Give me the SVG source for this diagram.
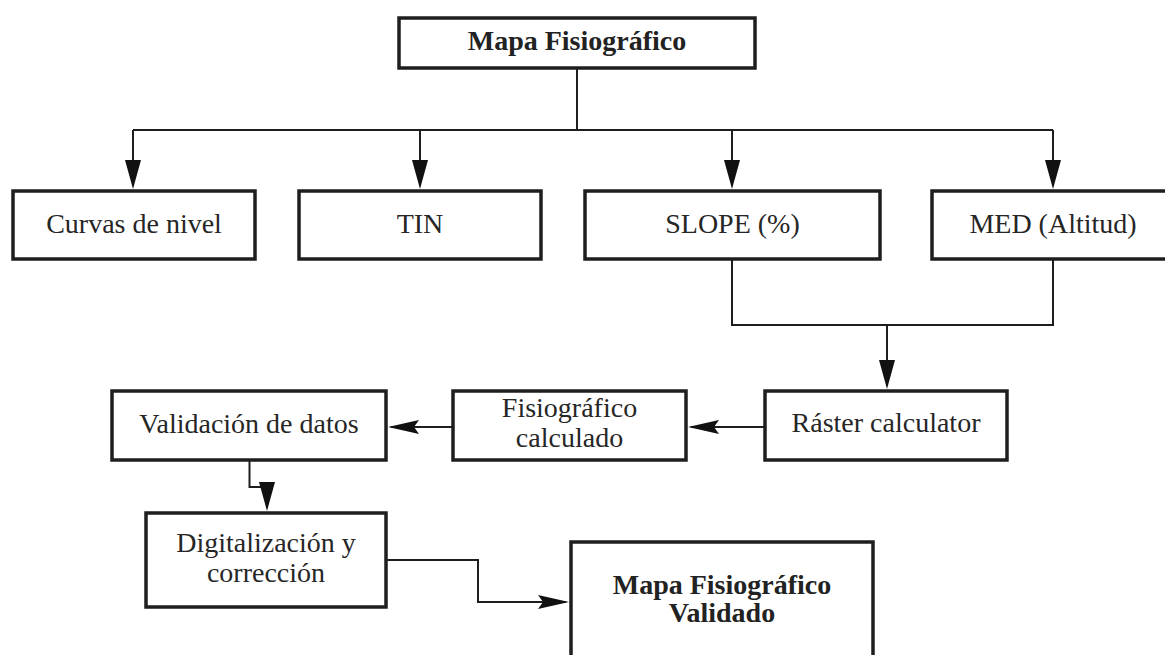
<svg xmlns="http://www.w3.org/2000/svg" width="1165" height="655" viewBox="0 0 1165 655">
  <style>
    .box { fill: #ffffff; stroke: #1e1e1e; stroke-width: 3.5; }
    .lbl { font-family: "Liberation Serif", "Times New Roman", serif; font-size: 28px; fill: #262626; text-anchor: middle; }
    .ttl { font-family: "Liberation Serif", "Times New Roman", serif; font-size: 28px; font-weight: bold; fill: #222222; text-anchor: middle; }
    .wire { fill: none; stroke: #1e1e1e; stroke-width: 2; }
  </style>
  <defs>
    <marker id="arrowV" markerUnits="userSpaceOnUse" orient="auto" markerWidth="40" markerHeight="20" refX="0" refY="0" viewBox="-30 -10 40 20" overflow="visible">
      <path d="M3,0 L-26,-8 L-26,8 Z" fill="#111111"/>
    </marker>
    <marker id="arrowH" markerUnits="userSpaceOnUse" orient="auto" markerWidth="40" markerHeight="20" refX="0" refY="0" viewBox="-30 -10 40 20" overflow="visible">
      <path d="M3,0 L-28,-7 L-23,0 L-28,7 Z" fill="#111111"/>
    </marker>
  </defs>

  <rect width="1165" height="655" fill="#ffffff"/>

  <!-- connectors -->
  <g id="connectors">
    <path class="wire" d="M577,68 V130"/>
    <path class="wire" d="M133,130 H1053"/>
    <path class="wire" d="M133,130 V186" marker-end="url(#arrowV)"/>
    <path class="wire" d="M420,130 V186" marker-end="url(#arrowV)"/>
    <path class="wire" d="M732,130 V186" marker-end="url(#arrowV)"/>
    <path class="wire" d="M1053,130 V186" marker-end="url(#arrowV)"/>
    <path class="wire" d="M732,260 V325 H1053 V260"/>
    <path class="wire" d="M887,325 V386" marker-end="url(#arrowV)"/>
    <path class="wire" d="M765,427 H691" marker-end="url(#arrowH)"/>
    <path class="wire" d="M453,427 H391" marker-end="url(#arrowH)"/>
    <path class="wire" d="M249.5,460 V487 H267 V508" marker-end="url(#arrowV)"/>
    <path class="wire" d="M386,560 H478 V602 H566" marker-end="url(#arrowH)"/>
  </g>

  <!-- nodes -->
  <g id="node-mapa">
    <rect class="box" x="399" y="18" width="356" height="50"/>
    <text class="ttl" x="577" y="50">Mapa Fisiográfico</text>
  </g>
  <g id="node-curvas">
    <rect class="box" x="13" y="191" width="242" height="68"/>
    <text class="lbl" x="134" y="233">Curvas de nivel</text>
  </g>
  <g id="node-tin">
    <rect class="box" x="299" y="191" width="242" height="68"/>
    <text class="lbl" x="420" y="233">TIN</text>
  </g>
  <g id="node-slope">
    <rect class="box" x="585" y="191" width="295" height="68"/>
    <text class="lbl" x="732.5" y="233">SLOPE (%)</text>
  </g>
  <g id="node-med">
    <rect class="box" x="932" y="191" width="242" height="68"/>
    <text class="lbl" x="1053" y="233">MED (Altitud)</text>
  </g>
  <g id="node-raster">
    <rect class="box" x="765" y="391" width="242" height="69"/>
    <text class="lbl" x="886" y="432">Ráster calculator</text>
  </g>
  <g id="node-fisio-calc">
    <rect class="box" x="453" y="391" width="233" height="69"/>
    <text class="lbl" x="569.5" y="417">Fisiográfico</text>
    <text class="lbl" x="569.5" y="447">calculado</text>
  </g>
  <g id="node-validacion">
    <rect class="box" x="112" y="391" width="274" height="69"/>
    <text class="lbl" x="249" y="433">Validación de datos</text>
  </g>
  <g id="node-digitalizacion">
    <rect class="box" x="146" y="513" width="240" height="94"/>
    <text class="lbl" x="266" y="552">Digitalización y</text>
    <text class="lbl" x="266" y="582">corrección</text>
  </g>
  <g id="node-validado">
    <rect class="box" x="571" y="542" width="302" height="130"/>
    <text class="ttl" x="722" y="594">Mapa Fisiográfico</text>
    <text class="ttl" x="722" y="622">Validado</text>
  </g>
</svg>
